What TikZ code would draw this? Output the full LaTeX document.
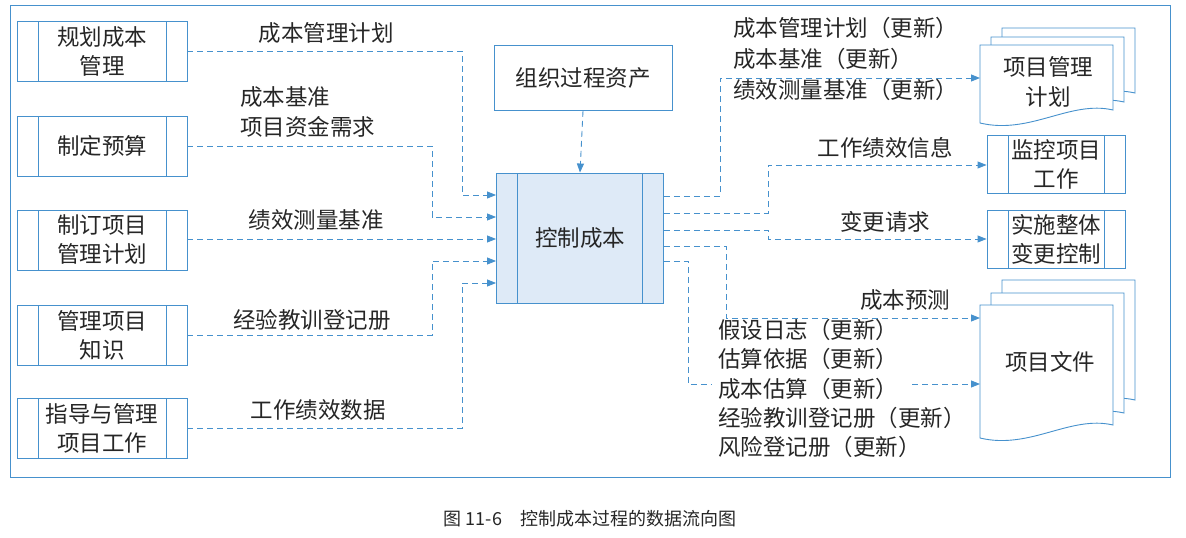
\documentclass[tikz,border=0pt]{standalone}
\usepackage{fontspec}
\setmainfont{Noto Sans CJK SC}
\usetikzlibrary{arrows.meta,calc}
\definecolor{bl}{RGB}{70,145,205}
\definecolor{fillb}{RGB}{222,234,247}
\begin{document}
\begin{tikzpicture}[x=1pt,y=-1pt,
  txt/.style={font=\fontsize{22.5}{28}\selectfont, text=black!85, inner sep=0pt, align=center},
  lbl/.style={font=\fontsize{22.5}{30}\selectfont, text=black!85, inner sep=0pt, align=left},
  proc/.style={draw=bl, line width=0.9pt, minimum width=#1, inner sep=0pt, align=center,
    font=\fontsize{22.5}{29}\selectfont, text=black!85,
    path picture={\draw[bl,line width=0.9pt] ([xshift=21pt]path picture bounding box.north west)--([xshift=21pt]path picture bounding box.south west);
      \draw[bl,line width=0.9pt] ([xshift=-21pt]path picture bounding box.north east)--([xshift=-21pt]path picture bounding box.south east);}},
  flow/.style={draw=bl, dashed, dash pattern=on 6pt off 4pt, line width=0.9pt},
  arr/.style={flow, -{Triangle[length=9pt,width=7pt]}}]
\useasboundingbox (0,0) rectangle (1186,538);
\draw[bl,line width=0.9pt] (10,5) rectangle (1170,477);
% left boxes
\node[proc=170pt, minimum height=60pt] (b1) at (102,51) {规划成本\\管理};
\node[proc=170pt, minimum height=60pt] (b2) at (102,146) {制定预算};
\node[proc=170pt, minimum height=60pt] (b3) at (102,240) {制订项目\\管理计划};
\node[proc=170pt, minimum height=60pt] (b4) at (102,335) {管理项目\\知识};
\node[proc=170pt, minimum height=60pt] (b5) at (102,428) {指导与管理\\项目工作};
% center
\node[proc=167pt, minimum height=130pt, fill=fillb] (c) at (580,238) {控制成本};
\node[draw=bl, line width=0.9pt, minimum width=178pt, minimum height=65pt, txt] (o) at (583,78) {组织过程资产};
% right
\node[proc=138pt, minimum height=58pt] (m) at (1056,164) {监控项目\\工作};
\node[proc=138pt, minimum height=58pt] (i) at (1056,239) {实施整体\\变更控制};
% documents
\foreach \dx/\dy in {22/-17,11/-8}{
  \draw[bl,line width=0.9pt,fill=white] (980+\dx,45+\dy) -- (1113+\dx,45+\dy) -- (1113+\dx,110+\dy) .. controls (1070+\dx,100+\dy) and (1030+\dx,135+\dy) .. (980+\dx,123+\dy) -- cycle;
}
\draw[bl,line width=0.9pt,fill=white] (980,45) -- (1113,45) -- (1113,110) .. controls (1070,100) and (1030,135) .. (980,123) -- cycle;
\node[txt, font=\fontsize{22.5}{30}\selectfont] (pmp) at (1048,82) {项目管理\\计划};
\coordinate (pmpw) at (980,78);
\foreach \dx/\dy in {22/-25,11/-12}{
  \draw[bl,line width=0.9pt,fill=white] (980+\dx,305+\dy) -- (1113+\dx,305+\dy) -- (1113+\dx,425+\dy) .. controls (1070+\dx,415+\dy) and (1030+\dx,450+\dy) .. (980+\dx,438+\dy) -- cycle;
}
\draw[bl,line width=0.9pt,fill=white] (980,305) -- (1113,305) -- (1113,425) .. controls (1070,415) and (1030,450) .. (980,438) -- cycle;
\node[txt] (pd) at (1050,362) {项目文件};
\coordinate (pdw) at (980,362);
% input arrows
\draw[arr] (b1.east |- 0,51) -- (462,51) |- (c.west |- 0,195);
\draw[arr] (b2.east) -- (432,146) |- (c.west |- 0,217);
\draw[arr] (b3.east |- 0,239) -- (c.west |- 0,239);
\draw[arr] (b4.east) -- (432,335) |- (c.west |- 0,261);
\draw[arr] (b5.east) -- (462,428) |- (c.west |- 0,283);
\draw[arr] (o.south) -- (c.north);
\node[txt] (l1) at (326,33) {成本管理计划};
\node[lbl, anchor=north west] (l2) at (240,86) {成本基准\\项目资金需求};
\node[txt] (l3) at (316,220) {绩效测量基准};
\node[txt] (l4) at (312,320) {经验教训登记册};
\node[txt] (l5) at (318,410) {工作绩效数据};
% output arrows
\draw[arr] (c.east |- 0,196) -- (720,196) |- (pmpw |- 0,78);
\draw[arr] (c.east |- 0,213) -- (768,213) |- (m.west |- 0,165);
\draw[arr] (c.east |- 0,230) -- (768,230) |- (i.west |- 0,239);
\draw[arr] (c.east |- 0,246) -- (726,246) |- (pdw |- 0,318);
\draw[flow] (c.east |- 0,261) -- (688,261) |- (712,384);
\draw[arr] (912,384) -- (pdw |- 0,384);
\node[lbl, anchor=north west, font=\fontsize{22.5}{31}\selectfont] (r1) at (733,17) {成本管理计划（更新）\\成本基准（更新）\\绩效测量基准（更新）};
\node[txt] (r2) at (885,148) {工作绩效信息};
\node[txt] (r3) at (885,222) {变更请求};
\node[txt] (r4) at (905,300) {成本预测};
\node[lbl, anchor=north west, font=\fontsize{22.5}{29.3}\selectfont] (r5) at (718,319) {假设日志（更新）\\估算依据（更新）\\成本估算（更新）\\经验教训登记册（更新）\\风险登记册（更新）};
\node[txt, font=\fontsize{18}{22}\selectfont] (cap) at (590,519) {图 11-6\hspace{1em}控制成本过程的数据流向图};
\end{tikzpicture}
\end{document}
